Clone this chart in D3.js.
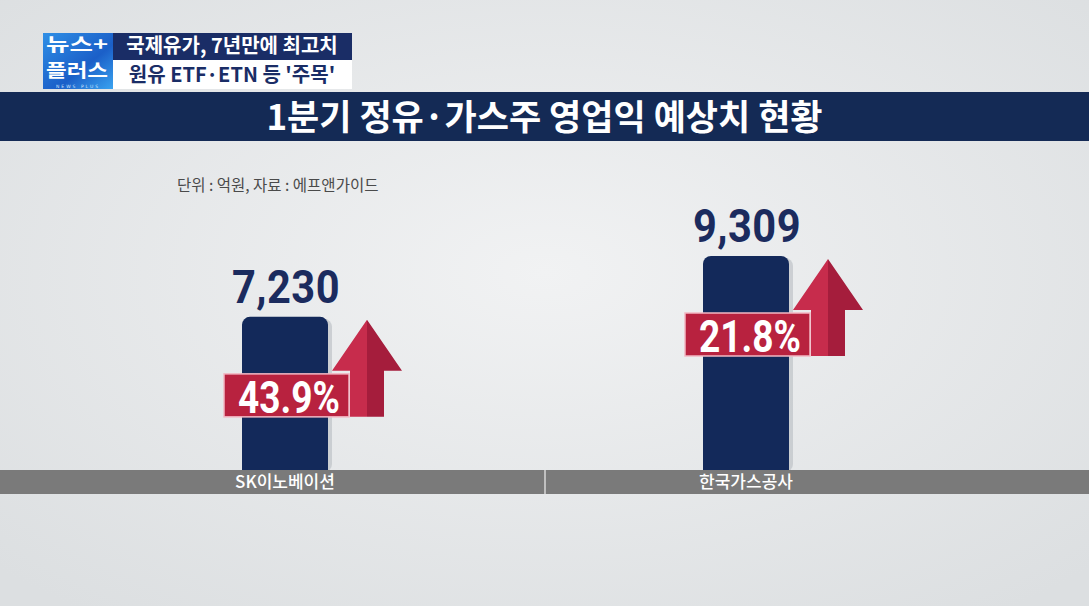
<!DOCTYPE html>
<html>
<head>
<meta charset="utf-8">
<script src="https://cdn.jsdelivr.net/npm/d3@7"></script>
<style>
  html, body { margin: 0; padding: 0; background: #e4e6e8; }
  svg { display: block; }
</style>
</head>
<body>
<div class="chart"></div>
<script>
// chart data
var categories = ["SK이노베이션", "한국가스공사"];
var values = [7230, 9309];
var valueLabels = ["7,230", "9,309"];
var growth = ["43.9%", "21.8%"];

var width = 1089;
var height = 606;
var KR = "'Noto Sans CJK KR', 'Noto Sans', sans-serif";
var navy = "#13295a";
var crimson = "#b8223f";

var svg = d3.select(".chart").append("svg")
  .attr("width", width)
  .attr("height", height);

var defs = svg.append("defs");
var bg = defs.append("radialGradient").attr("id", "bg")
  .attr("cx", "50%").attr("cy", "45%").attr("r", "70%");
bg.append("stop").attr("offset", "0%").attr("stop-color", "#f1f2f3");
bg.append("stop").attr("offset", "100%").attr("stop-color", "#dcdfe1");

var logo = defs.append("linearGradient").attr("id", "logo")
  .attr("x1", 0).attr("y1", 0).attr("x2", 1).attr("y2", 1);
logo.append("stop").attr("offset", "0%").attr("stop-color", "#2f8fe6");
logo.append("stop").attr("offset", "60%").attr("stop-color", "#1b5fc8");
logo.append("stop").attr("offset", "100%").attr("stop-color", "#3aa3f0");

svg.append("rect").attr("width", width).attr("height", height).attr("fill", "url(#bg)");

// top-left program badge
svg.append("rect").attr("x", 43).attr("y", 33).attr("width", 70).attr("height", 56)
  .attr("fill", "url(#logo)");
svg.append("text").attr("x", 46).attr("y", 51).attr("fill", "white")
  .attr("font-family", KR).attr("font-weight", 700).attr("font-size", 18)
  .attr("textLength", 62).attr("lengthAdjust", "spacingAndGlyphs")
  .text("뉴스+");
svg.append("text").attr("x", 46).attr("y", 77).attr("fill", "white")
  .attr("font-family", KR).attr("font-weight", 700).attr("font-size", 18)
  .attr("textLength", 62).attr("lengthAdjust", "spacingAndGlyphs")
  .text("플러스");
svg.append("text").attr("x", 78).attr("y", 88).attr("text-anchor", "middle")
  .attr("fill", "#cfe6ff").attr("font-family", "DejaVu Sans").attr("font-size", 4.5)
  .attr("letter-spacing", 2).text("NEWS PLUS");

svg.append("rect").attr("x", 113).attr("y", 33).attr("width", 239).attr("height", 27)
  .attr("fill", "#1a2d66");
svg.append("text").attr("x", 232).attr("y", 53).attr("text-anchor", "middle")
  .attr("fill", "white").attr("font-family", KR).attr("font-weight", 700).attr("font-size", 20)
  .text("국제유가, 7년만에 최고치");
svg.append("rect").attr("x", 113).attr("y", 60).attr("width", 239).attr("height", 29)
  .attr("fill", "white");
svg.append("text").attr("x", 232).attr("y", 82).attr("text-anchor", "middle")
  .attr("fill", "#1a2d66").attr("font-family", KR).attr("font-weight", 700).attr("font-size", 20)
  .text("원유 ETF·ETN 등 '주목'");

// title band
svg.append("rect").attr("x", 0).attr("y", 92).attr("width", width).attr("height", 49)
  .attr("fill", "#142a55");
svg.append("text").attr("x", width / 2).attr("y", 130).attr("text-anchor", "middle")
  .attr("fill", "white").attr("font-family", KR).attr("font-weight", 700).attr("font-size", 35)
  .text("1분기 정유·가스주 영업익 예상치 현황");

svg.append("text").attr("x", 177).attr("y", 191)
  .attr("fill", "#4a4a4a").attr("font-family", KR).attr("font-size", 15.5)
  .text("단위 : 억원, 자료 : 에프앤가이드");

// scales
var baseY = 470;
var x = d3.scalePoint().domain(categories).range([285, 746]);
var y = d3.scaleLinear().domain([2000, 9309]).range([baseY, 256]);
var barW = 86;

var g = svg.append("g");

// bar shadow + bar
g.selectAll(".shadow").data(categories).enter().append("rect")
  .attr("x", function(d) { return x(d) - barW / 2 + 4; })
  .attr("y", function(d, i) { return y(values[i]) + 2; })
  .attr("width", barW).attr("height", function(d, i) { return baseY - y(values[i]); })
  .attr("rx", 8).attr("fill", "#b8bcc2").attr("opacity", 0.6);

g.selectAll(".bar").data(categories).enter().append("rect")
  .attr("class", "bar")
  .attr("x", function(d) { return x(d) - barW / 2; })
  .attr("y", function(d, i) { return y(values[i]); })
  .attr("width", barW)
  .attr("height", function(d, i) { return baseY - y(values[i]) + 8; })
  .attr("rx", 8).attr("fill", navy);

// value labels
g.selectAll(".val").data(categories).enter().append("text")
  .attr("x", function(d) { return x(d) + 1; })
  .attr("y", function(d, i) { return y(values[i]) - 14; })
  .attr("text-anchor", "middle")
  .attr("fill", "#1b2b5e").attr("font-family", "Roboto, sans-serif").attr("font-weight", 700)
  .attr("font-size", 46).attr("letter-spacing", 0.5)
  .attr("textLength", 108).attr("lengthAdjust", "spacingAndGlyphs")
  .text(function(d, i) { return valueLabels[i]; });

// arrows (relative to bar top)
categories.forEach(function(c, i) {
  var top = y(values[i]);
  var cx = x(c) + 82;
  var tipY = top + 3;
  var baseH = top + 54;
  var bottom = top + 100;
  // left (lighter) half
  g.append("path")
    .attr("d", "M" + cx + "," + tipY + " L" + (cx - 35) + "," + baseH + " L" + (cx - 17) + "," + baseH +
      " L" + (cx - 17) + "," + bottom + " L" + cx + "," + bottom + "Z")
    .attr("fill", "#c72c4c");
  // right (darker) half
  g.append("path")
    .attr("d", "M" + cx + "," + tipY + " L" + (cx + 35) + "," + baseH + " L" + (cx + 17) + "," + baseH +
      " L" + (cx + 17) + "," + bottom + " L" + cx + "," + bottom + "Z")
    .attr("fill", "#a51d3c");

  // percent box
  g.append("rect")
    .attr("x", x(c) - 61).attr("y", top + 57)
    .attr("width", 125).attr("height", 43)
    .attr("fill", crimson).attr("stroke", "#f2b8c4").attr("stroke-width", 1.5);
  g.append("text")
    .attr("x", x(c) + 4).attr("y", top + 96)
    .attr("text-anchor", "middle")
    .attr("fill", "white").attr("font-family", "Roboto, sans-serif").attr("font-weight", 700)
    .attr("font-size", 44)
    .attr("textLength", 102).attr("lengthAdjust", "spacingAndGlyphs")
    .text(growth[i]);
});

// category band
svg.append("rect").attr("x", 0).attr("y", baseY).attr("width", width).attr("height", 24)
  .attr("fill", "#7a7a7a");
svg.append("line").attr("x1", 545).attr("x2", 545).attr("y1", baseY).attr("y2", baseY + 24)
  .attr("stroke", "#d8d8d8").attr("stroke-width", 1.5);
svg.selectAll(".cat").data(categories).enter().append("text")
  .attr("x", function(d) { return x(d); })
  .attr("y", baseY + 18)
  .attr("text-anchor", "middle")
  .attr("fill", "white").attr("font-family", KR).attr("font-weight", 500).attr("font-size", 17)
  .text(function(d) { return d; });
</script>
</body>
</html>
